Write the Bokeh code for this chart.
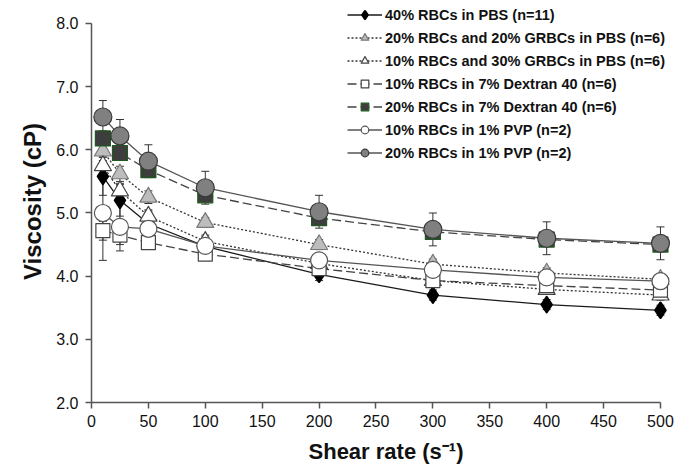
from bokeh.plotting import figure
from bokeh.models import (ColumnDataSource, Legend, LegendItem, Whisker, TeeHead,
                          FixedTicker, NumeralTickFormatter)
from bokeh.embed import file_html
from bokeh.resources import INLINE

# Shear rates (1/s) at which viscosity was measured
shear_rate = [10, 25, 50, 100, 200, 300, 400, 500]

# Mean viscosity (cP) per suspension
pbs_40 = [5.58, 5.20, 4.83, 4.47, 4.03, 3.70, 3.55, 3.46]
grbc_20_20 = [5.98, 5.62, 5.25, 4.85, 4.50, 4.19, 4.05, 3.95]
grbc_10_30 = [5.75, 5.35, 4.95, 4.55, 4.20, 3.93, 3.79, 3.70]
dex_10 = [4.72, 4.65, 4.53, 4.35, 4.12, 3.93, 3.85, 3.78]
dex_20 = [6.18, 5.95, 5.68, 5.28, 4.92, 4.70, 4.58, 4.50]
pvp_10 = [5.00, 4.78, 4.75, 4.48, 4.25, 4.10, 3.98, 3.92]
pvp_20 = [6.52, 6.22, 5.82, 5.40, 5.02, 4.74, 4.60, 4.52]

# Standard deviations (cP)
pbs_40_sd = [0.30, 0.25, 0.20, 0.15, 0.10, 0.08, 0.08, 0.08]
grbc_20_20_sd = [0.15, 0.12, 0.10, 0.08, 0.08, 0.08, 0.08, 0.08]
grbc_10_30_sd = [0.15, 0.12, 0.10, 0.10, 0.10, 0.08, 0.08, 0.08]
dex_10_sd = [0.15, 0.15, 0.10, 0.08, 0.06, 0.06, 0.06, 0.06]
dex_20_sd = [0.12, 0.10, 0.10, 0.10, 0.10, 0.10, 0.10, 0.10]
pvp_10_sd = [0.75, 0.38, 0.12, 0.10, 0.10, 0.10, 0.10, 0.10]
pvp_20_sd = [0.26, 0.26, 0.26, 0.26, 0.26, 0.26, 0.26, 0.26]

labels = [
    "40% RBCs in PBS (n=11)",
    "20% RBCs and 20% GRBCs in PBS (n=6)",
    "10% RBCs and 30% GRBCs in PBS (n=6)",
    "10% RBCs in 7% Dextran 40 (n=6)",
    "20% RBCs in 7% Dextran 40 (n=6)",
    "10% RBCs in 1% PVP (n=2)",
    "20% RBCs in 1% PVP (n=2)",
]

x_ticks = [0, 50, 100, 150, 200, 250, 300, 350, 400, 450, 500]
y_ticks = [2.0, 3.0, 4.0, 5.0, 6.0, 7.0, 8.0]

FONT = "Liberation Sans"

series = [
    dict(y=pbs_40, sd=pbs_40_sd, marker="diamond", size=15, lw=2.5,
         fill="#000000", edge="#000000", line="#1a1a1a", dash="solid"),
    dict(y=grbc_20_20, sd=grbc_20_20_sd, marker="triangle", size=17, lw=1.2,
         fill="#bdbdbd", edge="#7a7a7a", line="#333333", dash="2 2"),
    dict(y=grbc_10_30, sd=grbc_10_30_sd, marker="triangle", size=17, lw=1.2,
         fill="#ffffff", edge="#444444", line="#333333", dash="2 2"),
    dict(y=dex_10, sd=dex_10_sd, marker="square", size=14, lw=1.2,
         fill="#ffffff", edge="#444444", line="#444444", dash="9 4"),
    dict(y=dex_20, sd=dex_20_sd, marker="square", size=15, lw=1.2,
         fill="#3d3d3d", edge="#1f5a1f", line="#444444", dash="9 4"),
    dict(y=pvp_10, sd=pvp_10_sd, marker="circle", size=17, lw=1.2,
         fill="#ffffff", edge="#555555", line="#555555", dash="solid"),
    dict(y=pvp_20, sd=pvp_20_sd, marker="circle", size=18, lw=1.2,
         fill="#808080", edge="#3a3a3a", line="#555555", dash="solid"),
]

# The frame fills the canvas to the top and right so the legend can sit above
# the 8.0 line; the axis lines are bounded to the data extent.
p = figure(width=680, height=469, output_backend="svg", toolbar_location=None,
           x_range=(0, 517.6), y_range=(2.0, 8.364),
           min_border_left=91, min_border_right=0, min_border_top=0,
           min_border_bottom=67)
p.outline_line_color = None
p.grid.visible = False
p.background_fill_color = "#ffffff"
p.border_fill_color = "#ffffff"

items = []
for s, label in zip(series, labels):
    src = ColumnDataSource(dict(
        x=shear_rate, y=s["y"],
        upper=[v + e for v, e in zip(s["y"], s["sd"])],
        lower=[v - e for v, e in zip(s["y"], s["sd"])],
    ))
    ln = p.line("x", "y", source=src, line_color=s["line"], line_width=1.3,
                line_dash=s["dash"])
    wh = Whisker(source=src, base="x", upper="upper", lower="lower",
                 line_color="#333333", line_width=1, level="underlay",
                 upper_head=TeeHead(size=8, line_color="#333333", line_width=1),
                 lower_head=TeeHead(size=8, line_color="#333333", line_width=1))
    p.add_layout(wh)
    sc = p.scatter("x", "y", source=src, marker=s["marker"], size=s["size"],
                   fill_color=s["fill"], line_color=s["edge"],
                   line_width=s["lw"], line_join="round")
    items.append(LegendItem(label=label, renderers=[ln, sc]))

legend = Legend(items=items, location=(256, 240), orientation="vertical",
                background_fill_alpha=0, border_line_color=None,
                padding=0, margin=0, spacing=4, label_height=19, glyph_height=19,
                glyph_width=35, label_standoff=3,
                label_text_font=FONT, label_text_font_style="bold",
                label_text_font_size="14.5px", label_text_color="#111111")
p.add_layout(legend, "center")

# axes
for ax in (p.xaxis[0], p.yaxis[0]):
    ax.axis_line_color = "#555555"
    ax.axis_line_width = 1.5
    ax.major_tick_line_color = "#555555"
    ax.major_tick_line_width = 1.5
    ax.major_tick_out = 6
    ax.major_tick_in = 0
    ax.minor_tick_line_color = None
    ax.major_label_text_font = FONT
    ax.major_label_text_font_size = "16px"
    ax.major_label_text_color = "#111111"
    ax.axis_label_text_font = FONT
    ax.axis_label_text_font_style = "bold"
    ax.axis_label_text_color = "#111111"

p.xaxis.axis_label_text_font_size = "22px"
p.yaxis.axis_label_text_font_size = "24px"
p.xaxis.bounds = (0, 500)
p.yaxis.bounds = (2.0, 8.0)
p.xaxis.ticker = FixedTicker(ticks=x_ticks)
p.yaxis.ticker = FixedTicker(ticks=y_ticks)
p.yaxis.formatter = NumeralTickFormatter(format="0.0")
p.xaxis.axis_label = "Shear rate (s\u207b\u00b9)"
p.yaxis.axis_label = "Viscosity (cP)"
p.yaxis.major_label_standoff = 7
p.xaxis.major_label_standoff = 6
p.yaxis.axis_label_standoff = 7
p.xaxis.axis_label_standoff = 9

open("out.html", "w").write(file_html(p, INLINE))
